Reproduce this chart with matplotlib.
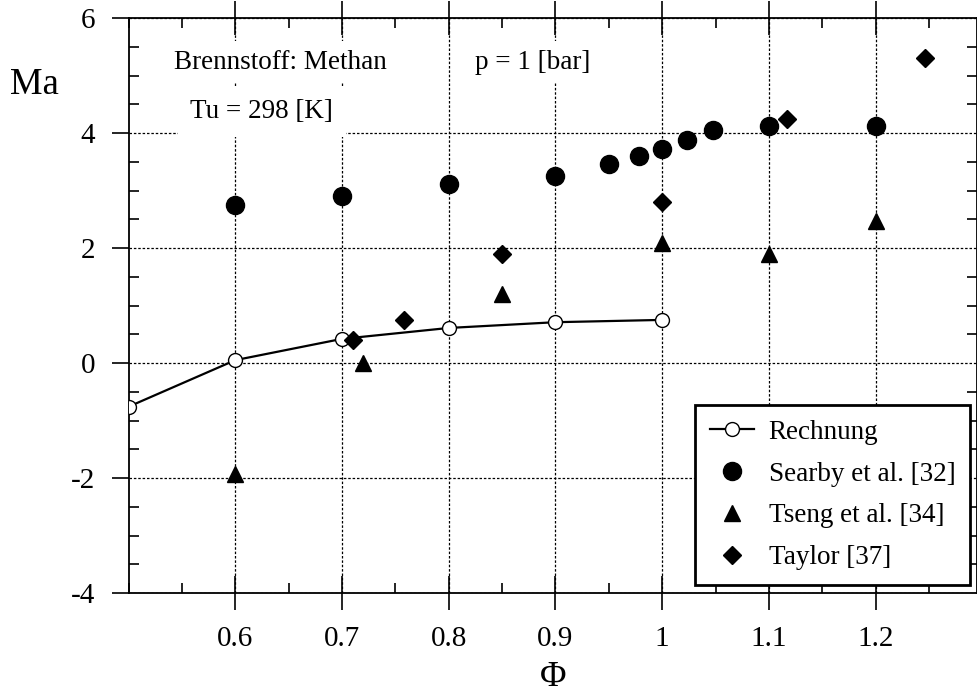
import numpy as np
import matplotlib
matplotlib.use("Agg")
import matplotlib.pyplot as plt
from matplotlib.ticker import MultipleLocator, FixedLocator

plt.rcParams['font.family'] = ['Liberation Serif', 'DejaVu Serif']
plt.rcParams['axes.unicode_minus'] = False

# Rechnung (calculation)
phi_calc = [0.5, 0.6, 0.7, 0.8, 0.9, 1.0]
ma_calc = [-0.76, 0.05, 0.42, 0.61, 0.71, 0.75]

# Searby et al. [32]
phi_searby = [0.6, 0.7, 0.8, 0.9, 0.95, 0.978, 1.0, 1.023, 1.048, 1.1, 1.2]
ma_searby = [2.75, 2.9, 3.11, 3.25, 3.46, 3.6, 3.73, 3.88, 4.05, 4.12, 4.13]

# Tseng et al. [34]
phi_tseng = [0.6, 0.72, 0.85, 1.0, 1.1, 1.2]
ma_tseng = [-1.93, 0.0, 1.2, 2.08, 1.9, 2.47]

# Taylor [37]
phi_taylor = [0.71, 0.758, 0.85, 1.0, 1.117, 1.246]
ma_taylor = [0.4, 0.75, 1.9, 2.8, 4.24, 5.3]

xticks = [0.6, 0.7, 0.8, 0.9, 1.0, 1.1, 1.2]
xticklabels = ['0.6', '0.7', '0.8', '0.9', '1', '1.1', '1.2']
yticks = [-4, -2, 0, 2, 4, 6]

fig = plt.figure(figsize=(9.78, 6.99), dpi=100)
ax = fig.add_axes([0.1314, 0.1516, 0.8676, 0.8226])

ax.plot(phi_calc, ma_calc, '-o', color='black', lw=1.6, ms=10,
        mfc='white', mec='black', mew=1.0, label='Rechnung', zorder=4)
ax.plot(phi_searby, ma_searby, 'o', color='black', ms=13, ls='none',
        label='Searby et al. [32]', zorder=4)
ax.plot(phi_tseng, ma_tseng, '^', color='black', ms=11.5, ls='none',
        label='Tseng et al. [34]', zorder=4)
ax.plot(phi_taylor, ma_taylor, 'D', color='black', ms=9.5, ls='none',
        label='Taylor [37]', zorder=4)

ax.set_xlim(0.5, 1.295)
ax.set_ylim(-4, 6)

ax.xaxis.set_major_locator(FixedLocator(xticks))
ax.set_xticklabels(xticklabels)
ax.xaxis.set_minor_locator(MultipleLocator(0.05))
ax.yaxis.set_major_locator(FixedLocator(yticks))
ax.yaxis.set_minor_locator(MultipleLocator(0.5))

ax.grid(True, which='major', ls=(0, (2, 1.5)), color='black', lw=0.9, zorder=0)

ax.tick_params(axis='x', which='major', direction='inout', length=24, width=1.2,
               top=True, labelsize=21, pad=12)
ax.tick_params(axis='x', which='minor', direction='in', length=7, width=1.2, top=True)
ax.tick_params(axis='y', which='major', direction='out', length=12, width=1.2,
               labelsize=21, pad=12)
ax.tick_params(axis='y', which='minor', direction='in', length=7, width=1.2, right=True)
ax.tick_params(axis='y', which='major', right=True)

for s in ax.spines.values():
    s.set_linewidth(1.3)

# annotation boxes on white background
box = dict(facecolor='white', edgecolor='none', pad=6)
ax.text(0.642, 5.23, 'Brennstoff: Methan', fontsize=19.5, ha='center', va='center',
        bbox=box, zorder=3)
ax.text(0.625, 4.37, 'Tu = 298 [K]', fontsize=19.5, ha='center', va='center',
        bbox=dict(facecolor='white', edgecolor='none', pad=9), zorder=3)
ax.text(0.879, 5.23, 'p = 1 [bar]', fontsize=19.5, ha='center', va='center',
        bbox=box, zorder=3)

fig.text(34 / 978, 1 - 85 / 699, 'Ma', fontsize=26.5, ha='center', va='center')
fig.text(553 / 978, 1 - 677 / 699, 'Φ', fontsize=26, ha='center', va='center')

leg = ax.legend(loc='lower right', bbox_to_anchor=(0.992, 0.014), fontsize=19.5,
                frameon=True, fancybox=False, edgecolor='black', framealpha=1,
                handlelength=1.6, handletextpad=0.55, labelspacing=0.62,
                borderpad=0.55, borderaxespad=0)
leg.get_frame().set_linewidth(2.0)
leg.set_zorder(5)

fig.savefig('out.png', dpi=100)
